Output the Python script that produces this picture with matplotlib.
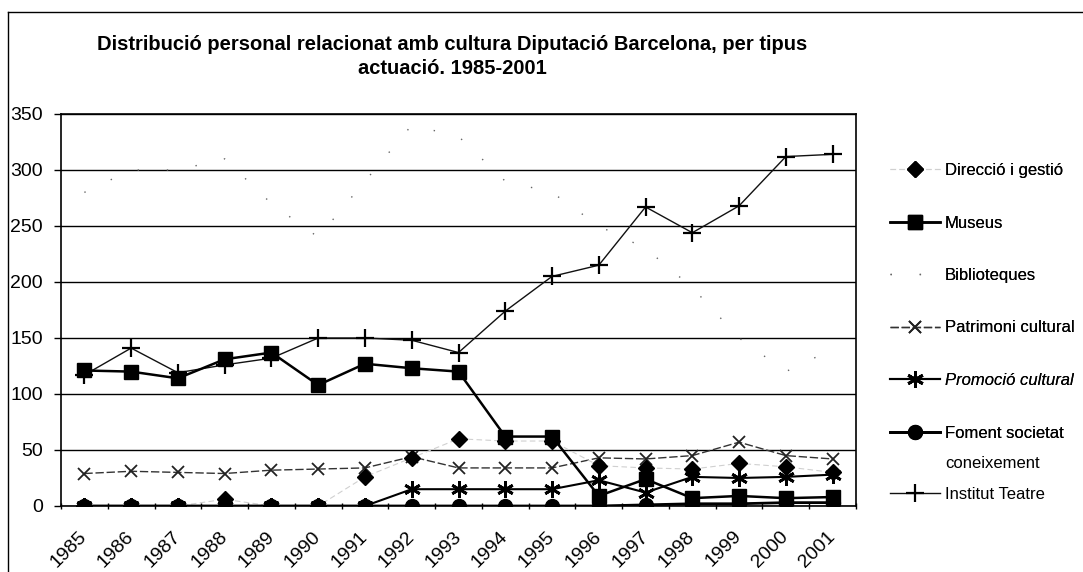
import matplotlib
matplotlib.use("Agg")
import matplotlib.pyplot as plt
from matplotlib.lines import Line2D
import numpy as np

plt.rcParams['font.family'] = ['Liberation Sans', 'DejaVu Sans']

years = [str(y) for y in range(1985, 2002)]
direccio = [0, 0, 0, 6, 0, 0, 26, 43, 60, 58, 58, 36, 34, 33, 38, 35, 30]
museus = [121, 120, 114, 131, 137, 108, 127, 123, 120, 62, 62, 9, 24, 7, 9, 7, 8]
biblioteques = [280, 300, 300, 310, 270, 240, 290, 340, 330, 290, 280, 250, 230, 195, 150, 120, 140]
patrimoni = [29, 31, 30, 29, 32, 33, 34, 44, 34, 34, 34, 43, 42, 45, 57, 45, 42]
promocio = [0, 0, 0, 0, 0, 0, 0, 15, 15, 15, 15, 23, 12, 26, 25, 26, 28]
foment = [0, 0, 0, 0, 0, 0, 0, 0, 0, 0, 0, 0, 1, 2, 2, 3, 3]
teatre = [117, 141, 119, 126, 132, 150, 150, 148, 137, 174, 205, 215, 267, 244, 268, 312, 314]

W, H = 1083, 572
fig = plt.figure(figsize=(W / 100, H / 100), dpi=100)
ax = fig.add_axes([61 / W, 1 - 506 / H, (856 - 61) / W, (506 - 114) / H])

x = np.arange(len(years))

ax.plot(x, biblioteques, linestyle=(0, (1, 20)), color='#666666', lw=1.0,
        label='Biblioteques', zorder=2)
ax.plot(x, direccio, linestyle=(0, (5, 3)), color='#d0d0d0', lw=0.8,
        marker='D', ms=8, mfc='black', mec='black', label='Direcció i gestió', zorder=4)
ax.plot(x, patrimoni, linestyle=(0, (6, 2)), color='#333333', lw=1.0,
        marker='x', ms=9, mew=1.3, mec='#222222', label='Patrimoni cultural', zorder=3)
ax.plot(x, teatre, linestyle='-', color='#111111', lw=1.0,
        marker='+', ms=13, mew=1.6, mec='black', label='Institut Teatre', zorder=3)
ax.plot(x, foment, linestyle='-', color='black', lw=2.0,
        marker='o', ms=10, mfc='black', mec='black', label='Foment societat', zorder=4)
ax.plot(x, promocio, linestyle='-', color='black', lw=1.5,
        marker=(6, 2, 0), ms=12, mew=2.0, mec='black', label='Promoció cultural', zorder=4)
ax.plot(x, museus, linestyle='-', color='black', lw=1.8,
        marker='s', ms=10, mfc='black', mec='black', label='Museus', zorder=5)

ax.set_xlim(-0.5, len(years) - 0.5)
ax.set_ylim(0, 350)
ax.set_yticks(np.arange(0, 351, 50))
ax.set_xticks(x)
ax.set_xticklabels(years, rotation=45, ha='right', va='center',
                   rotation_mode='anchor', fontsize=14)
ax.set_xticks(np.arange(-0.5, len(years), 1.0), minor=True)
ax.tick_params(axis='x', which='major', length=0, pad=20)
ax.tick_params(axis='x', which='minor', length=4, width=1, direction='inout')
ax.tick_params(axis='y', length=5, width=1, direction='out', pad=8, labelsize=14)
ax.yaxis.grid(True, color='black', lw=1.0)
ax.set_axisbelow(True)
for s in ax.spines.values():
    s.set_color('black')
    s.set_linewidth(1.2)

fig.text(452 / W, 1 - 44 / H,
         'Distribució personal relacionat amb cultura Diputació Barcelona, per tipus',
         ha='center', va='center', fontsize=14.5, fontweight='bold')
fig.text(452 / W, 1 - 68 / H, 'actuació. 1985-2001',
         ha='center', va='center', fontsize=14.5, fontweight='bold')

# outer chart frame (scan border)
fig.add_artist(Line2D([8 / W, 8 / W], [0, 1 - 12 / H], transform=fig.transFigure, color='black', lw=1.0))
fig.add_artist(Line2D([8 / W, 1], [1 - 12 / H, 1 - 12 / H], transform=fig.transFigure, color='black', lw=1.0))

handles, labels = ax.get_legend_handles_labels()
hmap = dict(zip(labels, handles))
order1 = ['Direcció i gestió', 'Museus', 'Biblioteques', 'Patrimoni cultural',
          'Promoció cultural', 'Foment societat']
leg_kw = dict(loc='upper left', frameon=False, fontsize=12, handlelength=3.0,
              handletextpad=0.3, labelspacing=2.25, borderaxespad=0, borderpad=0)
leg1 = fig.legend([hmap[o] for o in order1], order1,
                  bbox_to_anchor=(890 / W, 1 - 163 / H), **leg_kw)
for t in leg1.get_texts():
    if t.get_text().startswith('Promoci'):
        t.set_fontstyle('italic')
leg2 = fig.legend([hmap['Institut Teatre']], ['Institut Teatre'],
                  bbox_to_anchor=(890 / W, 1 - 487 / H), **leg_kw)
fig.add_artist(leg1)
fig.text(945 / W, 1 - 464 / H, 'coneixement', ha='left', va='center', fontsize=12)

fig.savefig('out.png', dpi=100)
